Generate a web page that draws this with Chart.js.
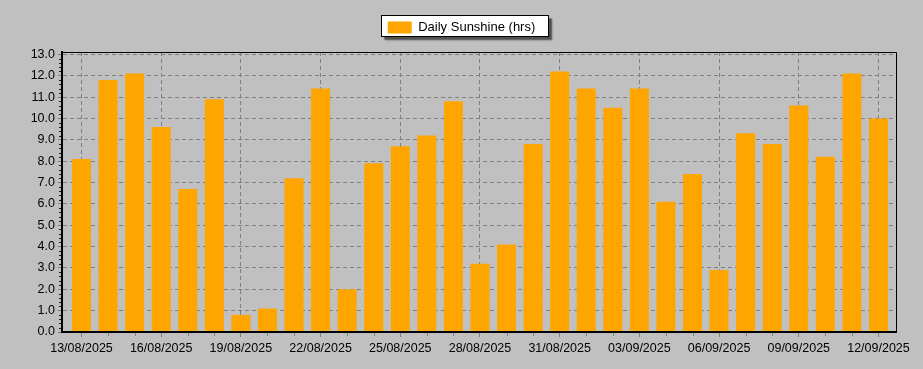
<!DOCTYPE html>
<html><head><meta charset="utf-8">
<script src="https://cdn.jsdelivr.net/npm/chart.js@4.4.1/dist/chart.umd.min.js"></script>
<style>html,body{margin:0;padding:0;background:#c0c0c0;} #wrap{width:923px;height:369px;position:relative;}</style>
</head><body><div id="wrap"><canvas id="c"></canvas></div>
<script>
const dates = ['13/08/2025','14/08/2025','15/08/2025','16/08/2025','17/08/2025','18/08/2025','19/08/2025','20/08/2025','21/08/2025','22/08/2025','23/08/2025','24/08/2025','25/08/2025','26/08/2025','27/08/2025','28/08/2025','29/08/2025','30/08/2025','31/08/2025','01/09/2025','02/09/2025','03/09/2025','04/09/2025','05/09/2025','06/09/2025','07/09/2025','08/09/2025','09/09/2025','10/09/2025','11/09/2025','12/09/2025'];
const sunshine = [8.1,11.8,12.1,9.6,6.7,10.9,0.8,1.1,7.2,11.4,2.0,7.9,8.7,9.2,10.8,3.2,4.1,8.8,12.2,11.4,10.5,11.4,6.1,7.4,2.9,9.3,8.8,10.6,8.2,12.1,10.0];
const yTicks = [0,1,2,3,4,5,6,7,8,9,10,11,12,13];
const labelEvery = 3;
const seriesLabel = 'Daily Sunshine (hrs)';

const FONT = "'Liberation Sans', Arial, sans-serif";

const framePlugin = {
  id: 'frame',
  beforeDraw(chart) {
    const ctx = chart.ctx;
    ctx.save();
    ctx.fillStyle = '#c0c0c0';
    ctx.fillRect(0, 0, chart.width, chart.height);
    const lg = chart.legend;
    if (lg && lg.legendHitBoxes && lg.legendHitBoxes.length) {
      const hb = lg.legendHitBoxes[0];
      const x = Math.round(hb.left - 7) + 0.5;
      const y = Math.round(hb.top - 6) + 0.5;
      const w = Math.round(hb.width + 19);
      const h = 21;
      ctx.fillStyle = '#505050';
      ctx.shadowColor = 'rgba(0,0,0,0.5)';
      ctx.shadowBlur = 2;
      ctx.fillRect(x + 3, y + 3, w, h);
      ctx.shadowBlur = 0;
      ctx.shadowColor = 'transparent';
      ctx.fillStyle = '#ffffff';
      ctx.fillRect(x, y, w, h);
      ctx.strokeStyle = '#000';
      ctx.lineWidth = 1;
      ctx.strokeRect(x, y, w, h);
    }
    ctx.restore();
  },
  afterDraw(chart) {
    const ctx = chart.ctx;
    const a = chart.chartArea;
    const xs = chart.scales.x, ys = chart.scales.y;
    ctx.save();
    ctx.strokeStyle = '#000';
    ctx.lineWidth = 1;
    ctx.beginPath();
    ctx.moveTo(a.left, a.top + 0.5);
    ctx.lineTo(a.right + 0.5, a.top + 0.5);
    ctx.lineTo(a.right + 0.5, a.bottom);
    ctx.stroke();
    ctx.strokeStyle = '#808080';
    ctx.beginPath();
    for (let i = 0; i < dates.length; i++) {
      if (i % labelEvery === 0) continue;
      const px = Math.round(xs.getPixelForValue(i)) + 0.5;
      ctx.moveTo(px, a.bottom + 1);
      ctx.lineTo(px, a.bottom + 4);
    }
    ctx.stroke();
    ctx.strokeStyle = '#202020';
    ctx.beginPath();
    for (let k = 0; k < (yTicks.length - 1) * 5; k++) {
      if (k % 5 === 0) continue;
      const py = Math.round(ys.getPixelForValue(k / 5)) + 0.5;
      ctx.moveTo(a.left - 3, py);
      ctx.lineTo(a.left - 1, py);
    }
    ctx.stroke();
    ctx.restore();
  }
};

new Chart(document.getElementById('c'), {
  type: 'bar',
  data: {
    datasets: [{
      label: seriesLabel,
      data: sunshine.map((v, i) => ({x: i, y: v})),
      backgroundColor: '#FFA500',
      borderWidth: 0,
      barPercentage: 0.715,
      categoryPercentage: 1.0
    }]
  },
  options: {
    responsive: true,
    maintainAspectRatio: false,
    animation: false,
    devicePixelRatio: 1,
    layout: {padding: {top: 11, right: 0, bottom: 0, left: 0}},
    plugins: {
      legend: {
        display: true,
        position: 'top',
        labels: {
          boxWidth: 24, boxHeight: 12, padding: 10,
          color: '#000',
          font: {family: FONT, size: 13}
        }
      },
      title: {
        display: true,
        text: '',
        position: 'top',
        weight: 500,
        font: {size: 1, lineHeight: 1},
        padding: {top: 0, bottom: 7}
      },
      tooltip: {enabled: false}
    },
    scales: {
      x: {
        type: 'linear',
        offset: false,
        min: -0.734,
        max: 30.66,
        afterBuildTicks: s => { s.ticks = dates.map((d, i) => i).filter(i => i % labelEvery === 0).map(v => ({value: v})); },
        afterFit: s => { s.height = 37; },
        ticks: {
          callback: v => dates[v],
          color: '#000',
          font: {family: FONT, size: 12.5},
          padding: 4,
          maxRotation: 0,
          autoSkip: false
        },
        grid: {offset: false, color: '#808080', lineWidth: 1, tickLength: 5, tickColor: '#808080', tickBorderDash: []},
        border: {display: true, color: '#000', width: 2, dash: [4, 3], z: 1}
      },
      y: {
        min: 0,
        max: 13.11,
        afterBuildTicks: s => { s.ticks = yTicks.map(v => ({value: v})); },
        afterFit: s => { s.width = 62; },
        ticks: {
          callback: v => Number(v).toFixed(1),
          color: '#000',
          font: {family: FONT, size: 12.5},
          padding: 3
        },
        grid: {color: '#808080', lineWidth: 1, tickLength: 4, tickColor: '#808080', tickBorderDash: []},
        border: {display: true, color: '#000', width: 2, dash: [4, 3], z: 1}
      },
      yRight: {
        type: 'linear',
        position: 'right',
        display: true,
        min: 0,
        max: 1,
        afterFit: s => { s.width = 27; },
        ticks: {display: false},
        grid: {display: false, drawOnChartArea: false, drawTicks: false},
        border: {display: false}
      }
    }
  },
  plugins: [framePlugin]
});
</script>
</body></html>
